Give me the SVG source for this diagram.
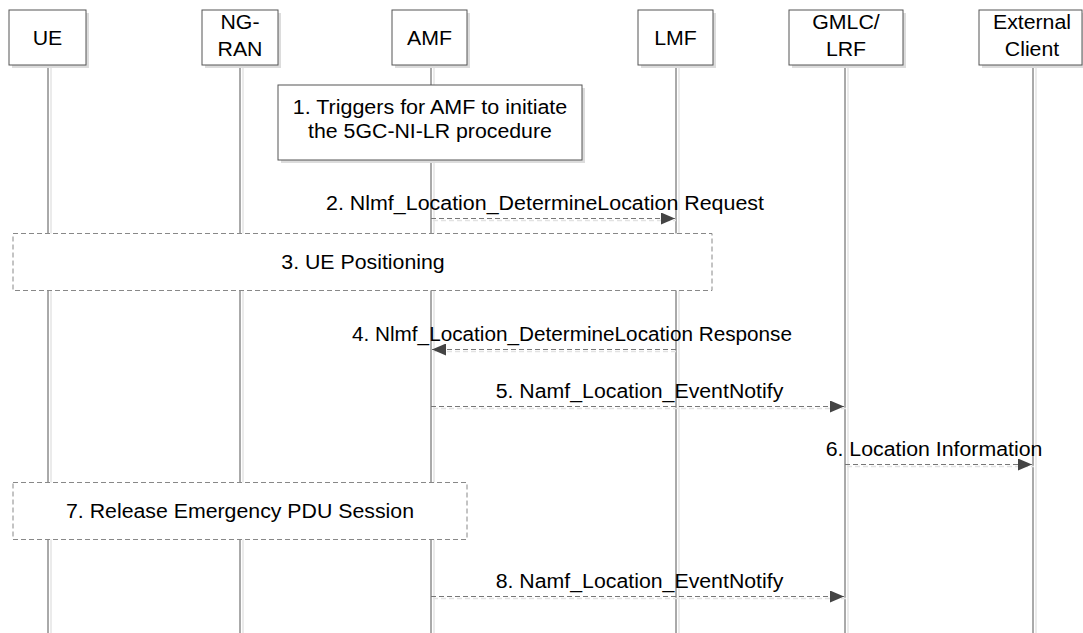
<svg xmlns="http://www.w3.org/2000/svg" width="1083" height="633" viewBox="0 0 1083 633">
<style>
text{font-family:"Liberation Sans",Arial,sans-serif;font-size:20px;fill:#000;text-anchor:middle}
.box{fill:#fff;stroke:#555;stroke-width:1}
.shadow{fill:#dcdcdc}
.life{stroke:#555;stroke-width:1}
.lifesh{stroke:#e4e4e4;stroke-width:1.5}
.dbox{fill:#fff;stroke:#888;stroke-width:1;stroke-dasharray:5 3}
.msg{stroke:#777;stroke-width:1;stroke-dasharray:5 3;fill:none}
.msgsh{stroke:#e2e2e2;stroke-width:1.5;stroke-dasharray:5 3;fill:none}
</style>
<defs>
<marker id="ah" viewBox="0 0 14 12" refX="14" refY="6" markerWidth="14" markerHeight="12" markerUnits="userSpaceOnUse" orient="auto">
<path d="M0,0 L14,6 L0,12 Z" fill="#444"/>
</marker>
</defs>
<rect width="1083" height="633" fill="#fff"/>
<g id="lifelines">
<line class="lifesh" x1="51" y1="68" x2="51" y2="633"/>
<line class="lifesh" x1="243" y1="68" x2="243" y2="633"/>
<line class="lifesh" x1="434" y1="68" x2="434" y2="633"/>
<line class="lifesh" x1="679" y1="68" x2="679" y2="633"/>
<line class="lifesh" x1="848" y1="68" x2="848" y2="633"/>
<line class="lifesh" x1="1036" y1="68" x2="1036" y2="633"/>
<line class="life" x1="48" y1="65" x2="48" y2="633"/>
<line class="life" x1="240" y1="65" x2="240" y2="633"/>
<line class="life" x1="431" y1="65" x2="431" y2="633"/>
<line class="life" x1="676" y1="65" x2="676" y2="633"/>
<line class="life" x1="845" y1="65" x2="845" y2="633"/>
<line class="life" x1="1033" y1="65" x2="1033" y2="633"/>
</g>
<g id="ue">
<rect class="shadow" x="12" y="13" width="77" height="55"/>
<rect class="box" x="9" y="10" width="77" height="55"/>
<text x="47.5" y="45" textLength="29.6" lengthAdjust="spacingAndGlyphs">UE</text>
</g>
<g id="ngran">
<rect class="shadow" x="205" y="13" width="76" height="55"/>
<rect class="box" x="202" y="10" width="76" height="55"/>
<text x="240" y="29" textLength="39" lengthAdjust="spacingAndGlyphs">NG-</text>
<text x="240" y="56" textLength="45" lengthAdjust="spacingAndGlyphs">RAN</text>
</g>
<g id="amf">
<rect class="shadow" x="395" y="13" width="75" height="55"/>
<rect class="box" x="392" y="10" width="75" height="55"/>
<text x="429.5" y="45" textLength="45" lengthAdjust="spacingAndGlyphs">AMF</text>
</g>
<g id="lmf">
<rect class="shadow" x="641" y="13" width="75" height="55"/>
<rect class="box" x="638" y="10" width="75" height="55"/>
<text x="675.5" y="45" textLength="42.6" lengthAdjust="spacingAndGlyphs">LMF</text>
</g>
<g id="gmlc">
<rect class="shadow" x="792" y="13" width="114" height="55"/>
<rect class="box" x="789" y="10" width="114" height="55"/>
<text x="846" y="29" textLength="67.5" lengthAdjust="spacingAndGlyphs">GMLC/</text>
<text x="846" y="56" textLength="40.2" lengthAdjust="spacingAndGlyphs">LRF</text>
</g>
<g id="extclient">
<rect class="shadow" x="982" y="13" width="103" height="55"/>
<rect class="box" x="979" y="10" width="103" height="55"/>
<text x="1032" y="29" textLength="78.1" lengthAdjust="spacingAndGlyphs">External</text>
<text x="1032" y="56" textLength="54.4" lengthAdjust="spacingAndGlyphs">Client</text>
</g>
<g id="step1">
<rect class="shadow" x="281" y="88" width="304" height="75"/>
<rect class="box" x="278" y="85" width="304" height="75"/>
<text x="430" y="114" textLength="274.6" lengthAdjust="spacingAndGlyphs">1. Triggers for AMF to initiate</text>
<text x="430" y="138" textLength="243.8" lengthAdjust="spacingAndGlyphs">the 5GC-NI-LR procedure</text>
</g>
<g id="step3">
<rect class="dbox" x="13" y="233.5" width="699" height="57"/>
<text x="363" y="269" textLength="163.4" lengthAdjust="spacingAndGlyphs">3. UE Positioning</text>
</g>
<g id="step7">
<rect class="dbox" x="13" y="482.5" width="454" height="57"/>
<text x="240" y="518" textLength="348" lengthAdjust="spacingAndGlyphs">7. Release Emergency PDU Session</text>
</g>
<g id="connectors">
<line class="msgsh" x1="433" y1="220.5" x2="676" y2="220.5"/>
<line class="msg" x1="431" y1="218.5" x2="675" y2="218.5" marker-end="url(#ah)"/>
<text x="545" y="210" textLength="438" lengthAdjust="spacingAndGlyphs">2. Nlmf_Location_DetermineLocation Request</text>

<line class="msgsh" x1="676" y1="351.5" x2="433" y2="351.5"/>
<line class="msg" x1="676" y1="349.5" x2="432" y2="349.5" marker-end="url(#ah)"/>
<text x="572" y="341" textLength="440" lengthAdjust="spacingAndGlyphs">4. Nlmf_Location_DetermineLocation Response</text>

<line class="msgsh" x1="433" y1="408.5" x2="846" y2="408.5"/>
<line class="msg" x1="431" y1="406.5" x2="844" y2="406.5" marker-end="url(#ah)"/>
<text x="639.5" y="398" textLength="287.7" lengthAdjust="spacingAndGlyphs">5. Namf_Location_EventNotify</text>

<line class="msgsh" x1="847" y1="466.5" x2="1034" y2="466.5"/>
<line class="msg" x1="845" y1="464.5" x2="1032" y2="464.5" marker-end="url(#ah)"/>
<text x="934" y="456" textLength="216.7" lengthAdjust="spacingAndGlyphs">6. Location Information</text>

<line class="msgsh" x1="433" y1="598.5" x2="846" y2="598.5"/>
<line class="msg" x1="431" y1="596.5" x2="844" y2="596.5" marker-end="url(#ah)"/>
<text x="639.5" y="588" textLength="287.7" lengthAdjust="spacingAndGlyphs">8. Namf_Location_EventNotify</text>
</g>
</svg>
